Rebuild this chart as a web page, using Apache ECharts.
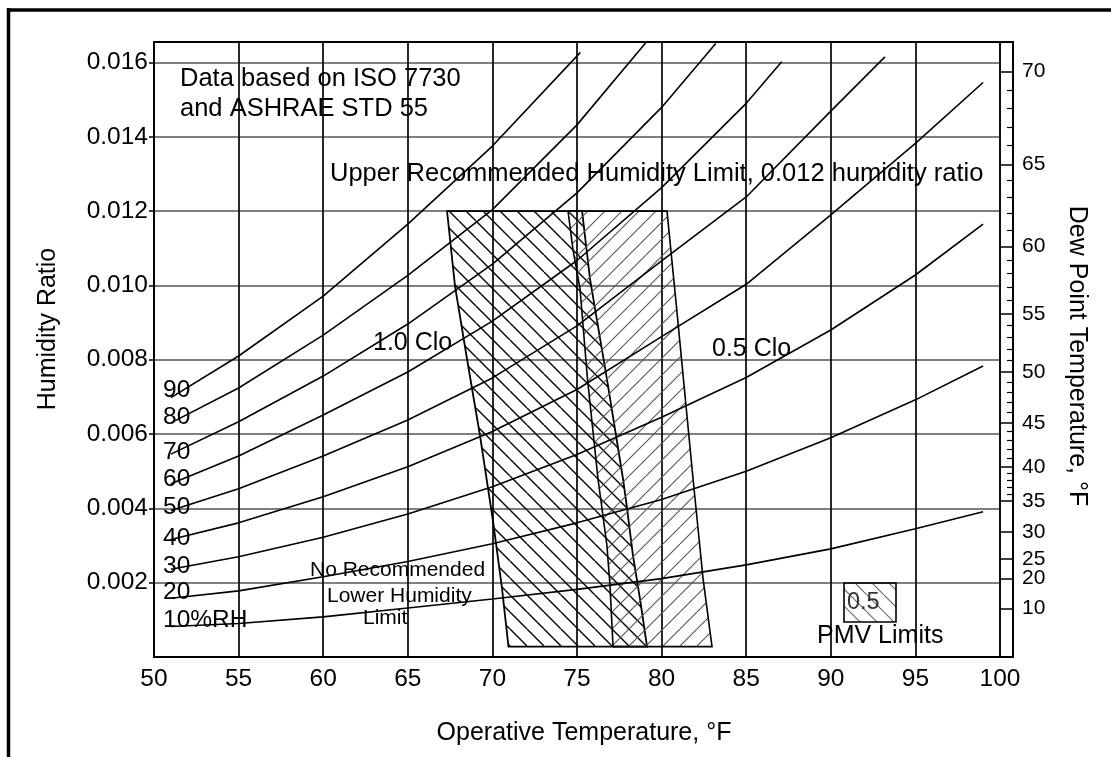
<!DOCTYPE html>
<html>
<head>
<meta charset="utf-8">
<script src="https://cdn.jsdelivr.net/npm/echarts@6/dist/echarts.min.js"></script>
<style>html,body{margin:0;padding:0;background:#fff;}#c{width:1111px;height:757px;}</style>
</head>
<body>
<div id="c"></div>
<script>
// ---------- data ----------
const yTickValues = [0.002, 0.004, 0.006, 0.008, 0.010, 0.012, 0.014, 0.016];
const tempGrid = [51, 55, 60, 65, 70, 75, 80, 85, 90, 95];
const rhNames = ['10', '20', '30', '40', '50', '60', '70', '80', '90'];
const rhEndTemp = [99, 99, 99, 99, 93.2, 87.1, 83.2, 79.1, 75.2];
const rh10 = [0.00082, 0.00090, 0.00108, 0.00132, 0.00156, 0.00182, 0.00211, 0.00248, 0.00291, 0.00345, 0.00391];
const rh20 = [0.00158, 0.00178, 0.00216, 0.00257, 0.00305, 0.00361, 0.00424, 0.00500, 0.00590, 0.00692, 0.00783];
const rh30 = [0.00236, 0.00270, 0.00322, 0.00385, 0.00458, 0.00545, 0.00645, 0.00752, 0.00880, 0.01028, 0.01165];
const rh40 = [0.00316, 0.00361, 0.00431, 0.00512, 0.00607, 0.00720, 0.00862, 0.01003, 0.01190, 0.01382, 0.01546];
const rh50 = [0.00394, 0.00453, 0.00541, 0.00638, 0.00751, 0.00891, 0.01066, 0.01238, 0.01469, 0.01615];
const rh60 = [0.00466, 0.00541, 0.00651, 0.00767, 0.00904, 0.01067, 0.01263, 0.01490, 0.01602];
const rh70 = [0.00546, 0.00633, 0.00756, 0.00896, 0.01057, 0.01249, 0.01479, 0.01651];
const rh80 = [0.00630, 0.00724, 0.00866, 0.01027, 0.01204, 0.01432, 0.01655];
const rh90 = [0.00698, 0.00810, 0.00971, 0.01165, 0.01375, 0.01627];
const rhValues = [rh10, rh20, rh30, rh40, rh50, rh60, rh70, rh80, rh90];

// comfort zones (operative temperature, humidity ratio)
const winterT = [67.32, 75.30, 75.77, 76.77, 77.72, 77.96, 78.31, 78.72, 79.14, 70.95, 70.57, 70.04, 69.27, 68.50, 67.79];
const winterW = [0.0120, 0.0120, 0.01017, 0.00748, 0.00479, 0.00399, 0.00272, 0.00157, 0.00028, 0.00028, 0.00184, 0.00364, 0.00595, 0.00802, 0.00998];
const summerT = [74.47, 80.32, 80.91, 81.86, 82.45, 82.98, 77.13, 76.95, 76.77, 76.48, 76.24, 75.62, 75.18, 74.76];
const summerW = [0.0120, 0.0120, 0.00928, 0.00479, 0.00211, 0.00028, 0.00028, 0.00192, 0.00299, 0.00399, 0.00479, 0.00748, 0.00990, 0.01097];

// dew point scale (right axis): labels and their humidity ratio positions
const dewPointLabels = [10, 20, 25, 30, 35, 40, 45, 50, 55, 60, 65, 70];
const dewPointW = [0.00130, 0.00211, 0.00264, 0.00337, 0.00420, 0.00512, 0.00630, 0.00767, 0.00923, 0.01105, 0.01326, 0.01576];

// ---------- build ----------
const FONT = "'Liberation Sans', Arial, Helvetica, sans-serif";

// minor dew point ticks every 1 F between 35 and 70
const dewMinorW = [];
for (let i = 4; i < dewPointLabels.length - 1; i++) {
  const d0 = dewPointLabels[i], d1 = dewPointLabels[i + 1];
  for (let d = d0 + 1; d < d1; d++) {
    dewMinorW.push(dewPointW[i] + (dewPointW[i + 1] - dewPointW[i]) * (d - d0) / (d1 - d0));
  }
}

function hatch(dir, color, lw, s) {
  const c = document.createElement('canvas');
  c.width = s; c.height = s;
  const g = c.getContext('2d');
  g.strokeStyle = color; g.lineWidth = lw;
  g.beginPath();
  for (let k = -1; k <= 1; k++) {
    if (dir === 'back') { g.moveTo(k * s, 0); g.lineTo(k * s + s, s); }
    else { g.moveTo(k * s, s); g.lineTo(k * s + s, 0); }
  }
  g.stroke();
  return c;
}
const winterPattern = { image: hatch('back', '#000', 1.4, 17), repeat: 'repeat' };
const summerPattern = { image: hatch('fwd', '#555', 1.1, 17), repeat: 'repeat' };
const legendPattern = { image: hatch('back', '#666', 1.1, 17), repeat: 'repeat' };

const rhSeries = rhValues.map((vals, i) => {
  const end = rhEndTemp[i];
  const temps = tempGrid.filter(t => t < end - 1).concat([end]);
  return {
    type: 'line', name: rhNames[i], xAxisIndex: 0, yAxisIndex: 0,
    data: temps.map((t, j) => [t, vals[j]]),
    showSymbol: false, smooth: false, silent: true, z: 5,
    lineStyle: { color: '#000', width: 1.6 }
  };
});

const zoneSeries = {
  type: 'custom', coordinateSystem: 'cartesian2d', xAxisIndex: 0, yAxisIndex: 0, silent: true, z: 3,
  data: [[winterT[0], winterW[0]], [summerT[0], summerW[0]]],
  renderItem: function (params, api) {
    const isWinter = params.dataIndex === 0;
    const T = isWinter ? winterT : summerT;
    const W = isWinter ? winterW : summerW;
    const pts = T.map((t, i) => api.coord([t, W[i]]));
    return {
      type: 'polygon', shape: { points: pts },
      style: { fill: isWinter ? winterPattern : summerPattern, stroke: '#000', lineWidth: isWinter ? 1.8 : 1.6 }
    };
  }
};

function txt(text, x, y, size, opts) {
  opts = opts || {};
  return {
    type: 'text', x: x, y: y, rotation: opts.rotation || 0, z: 20, silent: true,
    style: {
      text: text, x: 0, y: 0, fill: opts.color || '#000',
      font: size + 'px ' + FONT,
      textAlign: opts.align || 'left', textVerticalAlign: 'middle'
    }
  };
}

const graphics = [
  { type: 'line', shape: { x1: 7, y1: 10, x2: 1111, y2: 10 }, style: { stroke: '#000', lineWidth: 3.5 }, silent: true },
  { type: 'line', shape: { x1: 8.5, y1: 8, x2: 8.5, y2: 757 }, style: { stroke: '#000', lineWidth: 3.5 }, silent: true },
  { type: 'line', shape: { x1: 1000, y1: 42, x2: 1014, y2: 42 }, style: { stroke: '#000', lineWidth: 2 }, silent: true },
  { type: 'line', shape: { x1: 1000, y1: 657, x2: 1014, y2: 657 }, style: { stroke: '#000', lineWidth: 2 }, silent: true },
  { type: 'rect', shape: { x: 844, y: 583, width: 52, height: 39 }, style: { fill: legendPattern, stroke: '#000', lineWidth: 1.6 }, silent: true, z: 10 },
  txt('Data based on ISO 7730', 180, 79, 25.5),
  txt('and ASHRAE STD 55', 180, 109, 25.5),
  txt('Upper Recommended Humidity Limit, 0.012 humidity ratio', 330, 174, 25.5),
  txt('1.0 Clo', 373, 343, 25),
  txt('0.5 Clo', 712, 349, 25),
  txt('No Recommended', 310, 570, 21),
  txt('Lower Humidity', 327, 596, 21),
  txt('Limit', 363, 618, 21),
  txt('PMV Limits', 817, 636, 25),
  txt('0.5', 847, 603, 23.5, { color: '#333' }),
  txt('90', 163, 390, 24.5),
  txt('80', 163, 417, 24.5),
  txt('70', 163, 452, 24.5),
  txt('60', 163, 479, 24.5),
  txt('50', 163, 507, 24.5),
  txt('40', 163, 538, 24.5),
  txt('30', 163, 566, 24.5),
  txt('20', 163, 592, 24.5),
  txt('10%RH', 163, 620, 24.5),
  txt('Operative Temperature, \u00B0F', 584, 733, 25, { align: 'center' }),
  txt('Humidity Ratio', 48, 329, 25, { align: 'center', rotation: Math.PI / 2 }),
  txt('Dew Point Temperature, \u00B0F', 1077, 356, 25, { align: 'center', rotation: -Math.PI / 2 })
];

const chart = echarts.init(document.getElementById('c'), null, { renderer: 'canvas' });
chart.setOption({
  animation: false,
  backgroundColor: '#fff',
  grid: { left: 154, right: 111, top: 42, bottom: 100, show: true, borderColor: '#000', borderWidth: 2, backgroundColor: 'transparent' },
  xAxis: {
    type: 'value', min: 50, max: 100, interval: 5,
    axisLine: { show: true, lineStyle: { color: '#000', width: 2 } },
    axisTick: { show: false },
    axisLabel: { color: '#000', fontSize: 24.5, fontFamily: FONT, margin: 10 },
    splitLine: { show: true, lineStyle: { color: '#111', width: 1.8 } }
  },
  yAxis: [
    {
      type: 'value', position: 'left', min: 0, max: 0.01655, interval: 0.002,
      axisLine: { show: true, lineStyle: { color: '#000', width: 2 } },
      axisTick: { show: true, length: 5, customValues: yTickValues, lineStyle: { color: '#000', width: 1.5 } },
      axisLabel: { customValues: yTickValues, formatter: v => v.toFixed(3), color: '#000', fontSize: 24.5, fontFamily: FONT, margin: 6 },
      splitLine: { show: true, lineStyle: { color: '#555', width: 1.6 } }
    },
    {
      type: 'value', position: 'right', offset: 13, min: 0, max: 0.01655,
      axisLine: { show: true, lineStyle: { color: '#000', width: 2 } },
      axisTick: { show: true, inside: true, length: 13, customValues: dewPointW, lineStyle: { color: '#000', width: 1.5 } },
      axisLabel: {
        customValues: dewPointW, color: '#000', fontSize: 21, fontFamily: FONT, margin: 9,
        formatter: v => { for (let i = 0; i < dewPointW.length; i++) { if (Math.abs(dewPointW[i] - v) < 1e-7) return String(dewPointLabels[i]); } return ''; }
      },
      splitLine: { show: false }
    },
    {
      type: 'value', position: 'right', offset: 13, min: 0, max: 0.01655,
      axisLine: { show: false },
      axisTick: { show: true, inside: true, length: 6, customValues: dewMinorW, lineStyle: { color: '#000', width: 1.2 } },
      axisLabel: { show: false },
      splitLine: { show: false }
    }
  ],
  series: [zoneSeries].concat(rhSeries),
  graphic: graphics
});
</script>
</body>
</html>
